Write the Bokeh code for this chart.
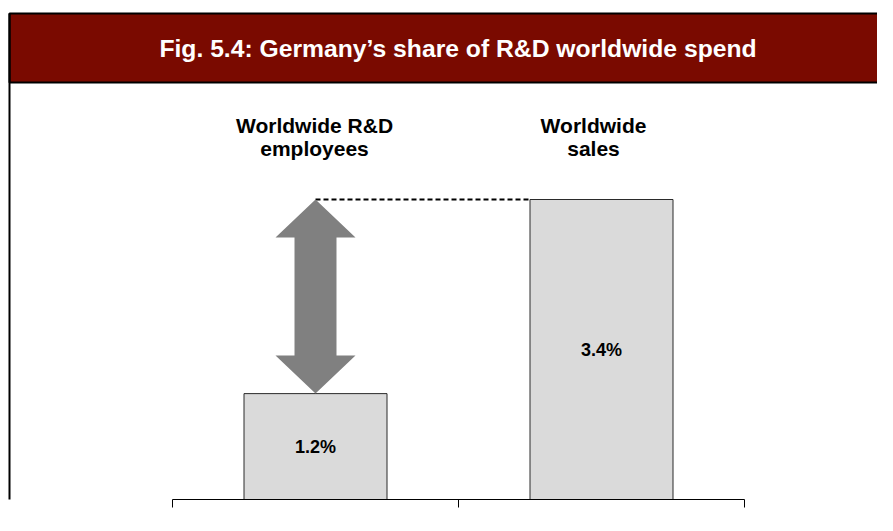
from bokeh.plotting import figure
from bokeh.models import ColumnDataSource, Range1d, FixedTicker
from bokeh.core.properties import value
from bokeh.embed import file_html
from bokeh.resources import INLINE

# ---- data ----
title_text = "Fig. 5.4: Germany\u2019s share of R&D worldwide spend"
categories = ["Worldwide R&D\nemployees", "Worldwide\nsales"]
shares = [1.2, 3.4]
share_labels = ["1.2%", "3.4%"]

# ---- layout (figure pixels) ----
W, H = 877, 515
X0_PX = 172.0            # x of category boundary 0
PX_PER_X = 286.0         # pixels per category
BASE_PX = 499.0          # y of value 0
PX_PER_Y = 300.0 / 3.4   # pixels per percentage point


def dx(px):
    return (px - X0_PX) / PX_PER_X


def dy(py):
    return (BASE_PX - py) / PX_PER_Y


FONT = value("Liberation Sans")

p = figure(width=W, height=H, output_backend="svg", toolbar_location=None,
           x_range=Range1d(dx(0), dx(W)),
           y_range=Range1d(0, dy(0)),
           y_axis_location=None, min_border_left=0, min_border_right=0,
           min_border_top=0, min_border_bottom=H - int(BASE_PX))
p.grid.visible = False
p.outline_line_color = None
p.background_fill_color = "white"
p.border_fill_color = "white"

# x axis: line with ticks at category boundaries
ax = p.xaxis[0]
ax.ticker = FixedTicker(ticks=list(range(len(categories) + 1)))
ax.bounds = (0, len(categories))
ax.major_tick_in = 0
ax.major_tick_out = 8
ax.minor_tick_line_color = None
ax.axis_line_color = "black"
ax.major_tick_line_color = "black"
ax.axis_line_width = 1
ax.major_label_text_font_size = "1px"
ax.major_label_text_alpha = 0
ax.major_label_standoff = 0

# title band
p.quad(left=dx(9), right=dx(905), top=dy(13), bottom=dy(82),
       fill_color="#7A0A00", line_color="black", line_width=2)
p.segment(x0=dx(9), y0=dy(13), x1=dx(9), y1=dy(540), line_color="black", line_width=2)
p.text(x=[dx(457.5)], y=[dy(48)], text=[title_text], text_font=FONT,
       text_font_style="bold", text_font_size="24.7px", text_color="white",
       text_align="center", text_baseline="middle")

# bars
centers = [i + 0.5 for i in range(len(categories))]
src = ColumnDataSource(dict(x=centers, top=shares, lab=share_labels,
                            ymid=[s / 2 for s in shares]))
p.vbar(x="x", top="top", bottom=0, width=0.5, source=src,
       fill_color="#DADADA", line_color="#2a2a2a", line_width=1)
p.text(x="x", y="ymid", text="lab", source=src, text_font=FONT,
       text_font_style="bold", text_font_size="18px", text_color="black",
       text_align="center", text_baseline="middle")

# category labels above the bars
label_offsets_px = [-1, -8]
p.text(x=[c + o / PX_PER_X for c, o in zip(centers, label_offsets_px)],
       y=[dy(136)] * len(categories), text=categories, text_font=FONT,
       text_font_style="bold", text_font_size="21px", text_color="black",
       text_align="center", text_baseline="middle", text_line_height=1.0)

# dashed connector from top of bigger bar to the arrow
lo, hi = shares[0], shares[1]
p.segment(x0=centers[0], y0=hi, x1=centers[1] - 0.25, y1=hi,
          line_color="black", line_width=2, line_dash="5 3")

# double-headed arrow between the two values
xc = centers[0]
hw = 40 / PX_PER_X
sw = 21 / PX_PER_X
hl = 38 / PX_PER_Y
ax_pts = [xc, xc + hw, xc + sw, xc + sw, xc + hw, xc, xc - hw, xc - sw, xc - sw, xc - hw]
ay_pts = [hi, hi - hl, hi - hl, lo + hl, lo + hl, lo, lo + hl, lo + hl, hi - hl, hi - hl]
p.patch(x=ax_pts, y=ay_pts, fill_color="#808080", line_color=None)

open("out.html", "w").write(file_html(p, INLINE))
